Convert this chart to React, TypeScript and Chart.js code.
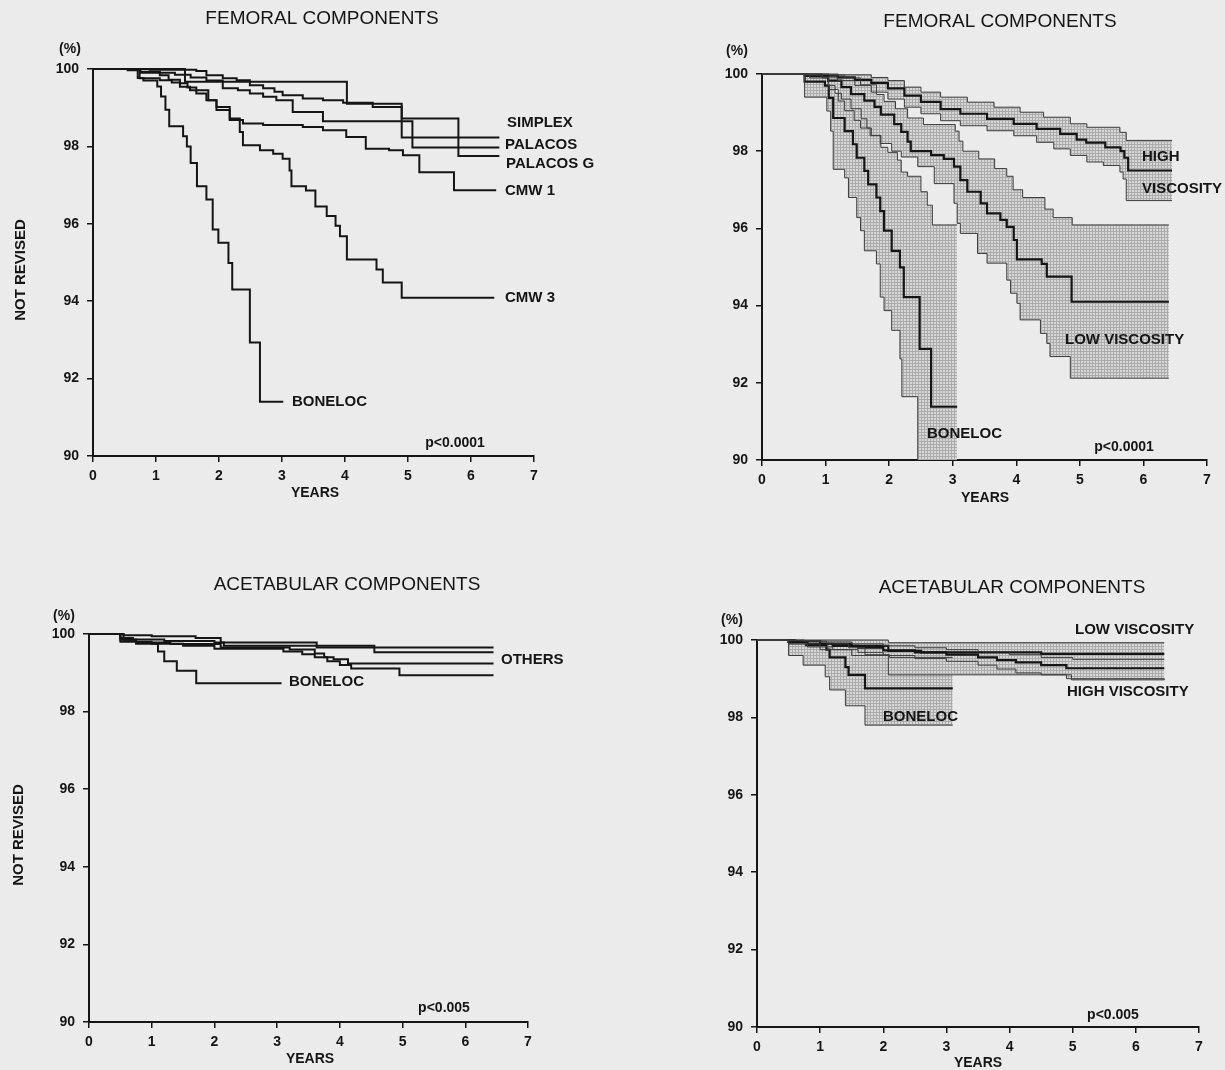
import React, { useEffect, useRef } from 'react';
import { Chart, registerables } from 'chart.js';

Chart.register(...registerables);

type Pt = [number, number];

// ---------- Top-left: femoral components by cement ----------
const FEM_SIMPLEX: Pt[] = [[0, 100], [1.46, 99.67], [4.03, 99.1], [4.9, 98.23], [6.45, 98.23]];
const FEM_PALACOS: Pt[] = [[0, 100], [0.55, 99.97], [0.75, 99.93], [1.06, 99.9], [1.3, 99.85], [1.55, 99.78], [1.8, 99.7], [2.06, 99.5], [2.3, 99.45], [2.49, 99.37], [2.7, 99.28], [2.91, 99.19], [3.17, 98.89], [3.65, 98.65], [5.07, 97.97], [6.45, 97.97]];
const FEM_PALACOS_G: Pt[] = [[0, 100], [0.9, 99.98], [1.64, 99.95], [1.8, 99.84], [2.06, 99.76], [2.28, 99.71], [2.49, 99.58], [2.7, 99.5], [2.88, 99.41], [3.01, 99.32], [3.33, 99.24], [3.65, 99.19], [3.97, 99.13], [4.44, 99.02], [4.9, 98.72], [5.8, 97.75], [6.45, 97.75]];
const FEM_CMW1: Pt[] = [[0, 100], [0.74, 99.76], [1.06, 99.71], [1.25, 99.65], [1.38, 99.54], [1.54, 99.45], [1.64, 99.37], [1.8, 99.19], [1.96, 98.94], [2.17, 98.68], [2.38, 98.59], [2.7, 98.55], [3.33, 98.5], [3.65, 98.42], [4.02, 98.24], [4.33, 97.94], [4.7, 97.9], [4.92, 97.77], [5.18, 97.33], [5.73, 96.87], [6.4, 96.87]];
const FEM_CMW3: Pt[] = [[0, 100], [0.75, 99.9], [1.06, 99.84], [1.2, 99.72], [1.38, 99.63], [1.5, 99.52], [1.64, 99.45], [1.83, 99.19], [1.96, 99.02], [2.17, 98.72], [2.33, 98.37], [2.38, 98.03], [2.65, 97.9], [2.86, 97.81], [3.01, 97.68], [3.12, 97.38], [3.15, 96.97], [3.38, 96.86], [3.53, 96.45], [3.71, 96.2], [3.85, 95.95], [3.92, 95.68], [4.03, 95.08], [4.5, 94.82], [4.6, 94.48], [4.9, 94.09], [6.37, 94.09]];
const FEM_BONELOC: Pt[] = [[0, 100], [0.71, 99.77], [0.8, 99.7], [1.02, 99.55], [1.08, 99.29], [1.15, 98.95], [1.21, 98.52], [1.43, 98.26], [1.49, 98.0], [1.55, 97.57], [1.65, 96.97], [1.8, 96.63], [1.9, 95.85], [1.99, 95.51], [2.15, 94.99], [2.21, 94.3], [2.49, 92.93], [2.65, 91.4], [3.02, 91.4]];

// ---------- Top-right: femoral components by viscosity (with confidence bands) ----------
const FV_HIGH_MID: Pt[] = [[0, 100], [0.67, 99.98], [0.93, 99.96], [1.19, 99.91], [1.46, 99.85], [1.72, 99.77], [1.98, 99.63], [2.24, 99.44], [2.5, 99.28], [2.81, 99.09], [3.12, 98.97], [3.54, 98.84], [3.96, 98.71], [4.32, 98.58], [4.69, 98.45], [4.95, 98.3], [5.1, 98.22], [5.4, 98.1], [5.64, 98.0], [5.7, 97.83], [5.76, 97.5], [6.45, 97.5]];
const FV_HIGH_UP: Pt[] = [[0, 100], [1.2, 99.98], [1.72, 99.91], [1.98, 99.83], [2.24, 99.66], [2.5, 99.53], [2.81, 99.4], [3.23, 99.27], [3.65, 99.14], [4.06, 99.01], [4.43, 98.88], [4.85, 98.71], [5.11, 98.62], [5.63, 98.49], [5.73, 98.28], [6.45, 98.28]];
const FV_HIGH_LO: Pt[] = [[0, 100], [0.67, 99.97], [0.93, 99.92], [1.19, 99.83], [1.46, 99.7], [1.72, 99.53], [1.98, 99.35], [2.24, 99.14], [2.5, 98.97], [2.81, 98.79], [3.12, 98.66], [3.54, 98.53], [3.96, 98.4], [4.32, 98.23], [4.59, 98.06], [4.85, 97.89], [5.11, 97.72], [5.37, 97.63], [5.63, 97.46], [5.68, 97.28], [5.73, 96.72], [6.45, 96.72]];
const FV_LOW_MID: Pt[] = [[0, 100], [0.7, 99.95], [1.04, 99.83], [1.25, 99.66], [1.4, 99.48], [1.61, 99.31], [1.77, 99.15], [1.87, 98.95], [2.08, 98.7], [2.19, 98.5], [2.29, 98.25], [2.34, 98.0], [2.66, 97.9], [2.86, 97.8], [3.02, 97.6], [3.12, 97.25], [3.23, 96.95], [3.44, 96.65], [3.54, 96.39], [3.75, 96.22], [3.85, 96.04], [3.96, 95.7], [4.01, 95.2], [4.4, 95.08], [4.48, 94.75], [4.87, 94.1], [6.4, 94.1]];
const FV_LOW_UP: Pt[] = [[0, 100], [1.05, 99.97], [1.3, 99.9], [1.55, 99.72], [1.8, 99.47], [1.92, 99.29], [2.1, 99.1], [2.29, 98.86], [2.54, 98.69], [3.04, 98.52], [3.1, 98.26], [3.16, 98.0], [3.41, 97.8], [3.66, 97.55], [3.85, 97.35], [3.95, 97.0], [4.1, 96.8], [4.45, 96.5], [4.58, 96.28], [4.88, 96.09], [6.4, 96.09]];
const FV_LOW_LO: Pt[] = [[0, 100], [0.75, 99.9], [1.05, 99.6], [1.2, 99.3], [1.3, 99.05], [1.45, 98.8], [1.55, 98.6], [1.7, 98.4], [1.86, 98.2], [2.04, 98.0], [2.19, 97.85], [2.45, 97.6], [2.71, 97.16], [3.02, 96.65], [3.07, 96.13], [3.12, 95.87], [3.39, 95.35], [3.54, 95.1], [3.85, 94.66], [3.91, 94.32], [4.01, 94.06], [4.06, 93.63], [4.38, 93.28], [4.48, 93.02], [4.53, 92.68], [4.85, 92.12], [6.4, 92.12]];
const FV_BONE_MID: Pt[] = [[0, 100], [0.67, 99.8], [0.99, 99.7], [1.05, 99.38], [1.12, 98.86], [1.3, 98.52], [1.43, 98.18], [1.49, 97.83], [1.61, 97.49], [1.67, 97.14], [1.8, 96.8], [1.86, 96.45], [1.92, 95.94], [2.04, 95.42], [2.17, 94.99], [2.23, 94.22], [2.48, 92.88], [2.66, 91.38], [3.07, 91.38]];
const FV_BONE_UP: Pt[] = [[0, 100], [0.95, 99.9], [1.04, 99.7], [1.15, 99.5], [1.25, 99.35], [1.4, 99.1], [1.56, 98.84], [1.65, 98.6], [1.72, 98.41], [1.87, 98.1], [1.98, 97.97], [2.13, 97.77], [2.19, 97.46], [2.29, 97.35], [2.5, 96.95], [2.6, 96.6], [2.68, 96.09], [3.07, 96.09]];
const FV_BONE_LO: Pt[] = [[0, 100], [0.67, 99.4], [1.02, 99.04], [1.08, 98.52], [1.12, 97.53], [1.3, 97.31], [1.36, 96.8], [1.49, 96.28], [1.55, 95.94], [1.61, 95.42], [1.8, 95.08], [1.86, 94.22], [1.92, 93.87], [2.04, 93.36], [2.17, 92.62], [2.2, 91.64], [2.45, 89.0], [3.07, 89.0]];

// ---------- Bottom-left: acetabular components by cement ----------
const ACE_OTHER_A: Pt[] = [[0, 100], [0.55, 99.97], [1.0, 99.94], [1.7, 99.9], [2.1, 99.78], [3.63, 99.65], [6.45, 99.65]];
const ACE_OTHER_B: Pt[] = [[0, 100], [0.5, 99.9], [0.7, 99.86], [1.2, 99.82], [2.0, 99.78], [2.15, 99.7], [4.55, 99.53], [6.45, 99.53]];
const ACE_OTHER_C: Pt[] = [[0, 100], [0.5, 99.85], [0.75, 99.78], [1.3, 99.74], [2.1, 99.65], [3.2, 99.6], [3.6, 99.5], [3.75, 99.4], [3.9, 99.35], [4.13, 99.24], [6.45, 99.24]];
const ACE_OTHER_D: Pt[] = [[0, 100], [0.5, 99.8], [1.0, 99.75], [1.5, 99.7], [2.0, 99.62], [3.1, 99.55], [3.4, 99.48], [3.6, 99.4], [3.8, 99.3], [4.0, 99.2], [4.18, 99.11], [4.95, 98.94], [6.45, 98.94]];
const ACE_BONELOC: Pt[] = [[0, 100], [0.55, 99.85], [0.75, 99.75], [1.1, 99.55], [1.2, 99.3], [1.4, 99.05], [1.71, 98.73], [3.07, 98.73]];

// ---------- Bottom-right: acetabular components by viscosity (with confidence bands) ----------
const AV_LOW_UP: Pt[] = [[0, 100], [2.08, 99.93], [6.45, 99.93]];
const AV_LOW_MID: Pt[] = [[0, 100], [0.6, 99.97], [1.0, 99.9], [1.5, 99.85], [2.08, 99.72], [2.6, 99.68], [4.5, 99.64], [6.45, 99.64]];
const AV_LOW_LO: Pt[] = [[0, 100], [0.5, 99.9], [1.0, 99.75], [1.5, 99.6], [2.08, 99.1], [4.98, 98.97], [6.45, 98.97]];
const AV_HIGH_UP: Pt[] = [[0, 100], [0.5, 99.98], [1.0, 99.95], [1.5, 99.9], [2.0, 99.85], [2.5, 99.8], [3.0, 99.75], [3.5, 99.7], [4.0, 99.62], [4.5, 99.55], [5.0, 99.5], [6.45, 99.5]];
const AV_HIGH_MID: Pt[] = [[0, 100], [0.5, 99.95], [0.8, 99.9], [1.2, 99.85], [1.6, 99.8], [2.0, 99.73], [2.5, 99.68], [3.0, 99.62], [3.5, 99.55], [3.8, 99.48], [4.1, 99.42], [4.5, 99.35], [4.9, 99.27], [6.45, 99.27]];
const AV_HIGH_LO: Pt[] = [[0, 100], [0.5, 99.9], [0.8, 99.82], [1.2, 99.75], [1.6, 99.68], [2.0, 99.6], [2.5, 99.52], [3.0, 99.45], [3.5, 99.35], [3.8, 99.25], [4.1, 99.15], [4.5, 99.1], [4.9, 99.0], [6.45, 98.97]];
const AV_BONE_UP: Pt[] = [[0, 100], [0.75, 99.97], [1.1, 99.9], [1.45, 99.8], [1.71, 99.62], [2.1, 99.55], [3.1, 99.55]];
const AV_BONE_MID: Pt[] = [[0, 100], [0.5, 99.95], [0.78, 99.87], [1.1, 99.75], [1.15, 99.55], [1.4, 99.3], [1.45, 99.1], [1.71, 98.75], [3.1, 98.75]];
const AV_BONE_LO: Pt[] = [[0, 100], [0.5, 99.6], [0.73, 99.35], [1.08, 99.05], [1.15, 98.71], [1.4, 98.3], [1.71, 97.8], [3.1, 97.8]];

// ---------- Axes ----------
const X_MIN = 0;
const X_MAX = 7;
const X_STEP = 1;
const Y_MIN = 90;
const Y_MAX = 100;
const Y_STEP = 2;

// ---------- Layout / styling (not data) ----------
const FONT = '"Liberation Sans", Arial, Helvetica, sans-serif';
const INK = '#151515';
const PAPER = '#ebebeb';

interface Band { up: Pt[]; lo: Pt[]; mid: Pt[] }
interface TextItem { t: string; x: number; y: number; size?: number; bold?: boolean; align?: CanvasTextAlign; rot?: boolean }
interface PanelSpec {
  left: number; top: number; w: number; h: number;
  pad: { l: number; r: number; t: number; b: number };
  lines: Pt[][];
  bands: Band[];
  texts: TextItem[];
}

const PANELS: PanelSpec[] = [
  {
    left: 0, top: 0, w: 612, h: 535,
    pad: { l: 33, r: 78, t: 69, b: 39 },
    lines: [FEM_SIMPLEX, FEM_PALACOS, FEM_PALACOS_G, FEM_CMW1, FEM_CMW3, FEM_BONELOC],
    bands: [],
    texts: [
      { t: 'FEMORAL COMPONENTS', x: 322, y: 19, size: 19, bold: false, align: 'center' },
      { t: '(%)', x: 70, y: 49, size: 14, align: 'center' },
      { t: 'NOT REVISED', x: 21, y: 270, size: 15, rot: true },
      { t: 'YEARS', x: 315, y: 493, size: 14, align: 'center' },
      { t: 'SIMPLEX', x: 507, y: 123, size: 15 },
      { t: 'PALACOS', x: 505, y: 145, size: 15 },
      { t: 'PALACOS G', x: 506, y: 164, size: 15 },
      { t: 'CMW 1', x: 505, y: 191, size: 15 },
      { t: 'CMW 3', x: 505, y: 298, size: 15 },
      { t: 'BONELOC', x: 292, y: 402, size: 15 },
      { t: 'p<0.0001', x: 455, y: 443, size: 14, align: 'center' },
    ],
  },
  {
    left: 612, top: 0, w: 613, h: 535,
    pad: { l: 90, r: 18, t: 74, b: 35 },
    lines: [],
    bands: [
      { up: FV_HIGH_UP, lo: FV_HIGH_LO, mid: FV_HIGH_MID },
      { up: FV_LOW_UP, lo: FV_LOW_LO, mid: FV_LOW_MID },
      { up: FV_BONE_UP, lo: FV_BONE_LO, mid: FV_BONE_MID },
    ],
    texts: [
      { t: 'FEMORAL COMPONENTS', x: 388, y: 22, size: 19, bold: false, align: 'center' },
      { t: '(%)', x: 125, y: 51, size: 14, align: 'center' },
      { t: 'YEARS', x: 373, y: 498, size: 14, align: 'center' },
      { t: 'HIGH', x: 530, y: 157, size: 15 },
      { t: 'VISCOSITY', x: 530, y: 189, size: 15 },
      { t: 'LOW VISCOSITY', x: 453, y: 340, size: 15 },
      { t: 'BONELOC', x: 315, y: 434, size: 15 },
      { t: 'p<0.0001', x: 512, y: 447, size: 14, align: 'center' },
    ],
  },
  {
    left: 0, top: 535, w: 612, h: 535,
    pad: { l: 29, r: 84, t: 99, b: 8 },
    lines: [ACE_OTHER_A, ACE_OTHER_B, ACE_OTHER_C, ACE_OTHER_D, ACE_BONELOC],
    bands: [],
    texts: [
      { t: 'ACETABULAR COMPONENTS', x: 347, y: 50, size: 19, bold: false, align: 'center' },
      { t: '(%)', x: 64, y: 81, size: 14, align: 'center' },
      { t: 'NOT REVISED', x: 19, y: 300, size: 15, rot: true },
      { t: 'YEARS', x: 310, y: 524, size: 14, align: 'center' },
      { t: 'OTHERS', x: 501, y: 125, size: 15 },
      { t: 'BONELOC', x: 289, y: 147, size: 15 },
      { t: 'p<0.005', x: 444, y: 473, size: 14, align: 'center' },
    ],
  },
  {
    left: 612, top: 535, w: 613, h: 535,
    pad: { l: 85, r: 26, t: 105, b: 3 },
    lines: [],
    bands: [
      { up: AV_LOW_UP, lo: AV_LOW_LO, mid: AV_LOW_MID },
      { up: AV_HIGH_UP, lo: AV_HIGH_LO, mid: AV_HIGH_MID },
      { up: AV_BONE_UP, lo: AV_BONE_LO, mid: AV_BONE_MID },
    ],
    texts: [
      { t: 'ACETABULAR COMPONENTS', x: 400, y: 53, size: 19, bold: false, align: 'center' },
      { t: '(%)', x: 120, y: 85, size: 14, align: 'center' },
      { t: 'YEARS', x: 366, y: 528, size: 14, align: 'center' },
      { t: 'LOW VISCOSITY', x: 463, y: 95, size: 15 },
      { t: 'HIGH VISCOSITY', x: 455, y: 157, size: 15 },
      { t: 'BONELOC', x: 271, y: 182, size: 15 },
      { t: 'p<0.005', x: 501, y: 480, size: 14, align: 'center' },
    ],
  },
];

const toXY = (pts: Pt[]) => pts.map(([x, y]) => ({ x, y }));

function Panel({ spec }: { spec: PanelSpec }) {
  const ref = useRef<HTMLCanvasElement | null>(null);

  useEffect(() => {
    const canvas = ref.current;
    if (!canvas) return;
    const ctx = canvas.getContext('2d');
    if (!ctx) return;

    // screened (dot grid) fill like the printed confidence bands
    const tile = document.createElement('canvas');
    tile.width = 3;
    tile.height = 3;
    const tg = tile.getContext('2d');
    let fillStyle: any = '#c6c6c6';
    if (tg) {
      tg.fillStyle = '#d7d7d7';
      tg.fillRect(0, 0, 3, 3);
      tg.fillStyle = '#ababab';
      tg.fillRect(0, 0, 1, 3);
      tg.fillRect(0, 0, 3, 1);
      const p = ctx.createPattern(tile, 'repeat');
      if (p) fillStyle = p;
    }

    const clip = { left: 3, top: 3, right: 3, bottom: 0 };
    const datasets: any[] = [];
    spec.bands.forEach((b) => {
      datasets.push({
        data: toXY(b.up), stepped: true, borderColor: '#3c3c3c', borderWidth: 1,
        pointRadius: 0, fill: '+1', backgroundColor: fillStyle, clip,
      });
      datasets.push({
        data: toXY(b.lo), stepped: true, borderColor: '#3c3c3c', borderWidth: 1,
        pointRadius: 0, fill: false, clip,
      });
    });
    spec.bands.forEach((b) => {
      datasets.push({
        data: toXY(b.mid), stepped: true, borderColor: INK, borderWidth: 2.2,
        pointRadius: 0, fill: false, clip,
      });
    });
    spec.lines.forEach((l) => {
      datasets.push({
        data: toXY(l), stepped: true, borderColor: INK, borderWidth: 2,
        pointRadius: 0, fill: false, clip,
      });
    });

    const textPlugin = {
      id: 'panelText',
      afterDraw(chart: any) {
        const c = chart.ctx as CanvasRenderingContext2D;
        c.save();
        c.fillStyle = INK;
        c.textBaseline = 'middle';
        spec.texts.forEach((t) => {
          const bold = t.bold === undefined ? true : t.bold;
          c.font = `${bold ? 'bold ' : ''}${t.size || 14}px ${FONT}`;
          if (t.rot) {
            c.save();
            c.translate(t.x, t.y);
            c.rotate(-Math.PI / 2);
            c.textAlign = 'center';
            c.fillText(t.t, 0, 0);
            c.restore();
          } else {
            c.textAlign = t.align || 'left';
            c.fillText(t.t, t.x, t.y);
          }
        });
        c.restore();
      },
    };

    const tickFont = { family: FONT, size: 14, weight: 'bold' as const };
    const chart = new Chart(canvas, {
      type: 'line',
      data: { datasets },
      plugins: [textPlugin],
      options: {
        animation: false,
        responsive: false,
        devicePixelRatio: 1,
        events: [],
        layout: { autoPadding: false, padding: { left: spec.pad.l, right: spec.pad.r, top: spec.pad.t, bottom: spec.pad.b } },
        plugins: {
          legend: { display: false },
          tooltip: { enabled: false },
          filler: { drawTime: 'beforeDatasetsDraw', propagate: false },
        },
        scales: {
          x: {
            type: 'linear', min: X_MIN, max: X_MAX,
            ticks: { stepSize: X_STEP, font: tickFont, color: INK, padding: 6, maxRotation: 0 },
            grid: { drawOnChartArea: false, drawTicks: true, tickLength: 6, color: INK, lineWidth: 1.5 },
            border: { display: true, color: INK, width: 2 },
            afterFit: (s: any) => { s.height = 40; },
          },
          y: {
            type: 'linear', min: Y_MIN, max: Y_MAX,
            ticks: { stepSize: Y_STEP, font: tickFont, color: INK, padding: 8 },
            grid: { drawOnChartArea: false, drawTicks: true, tickLength: 6, color: INK, lineWidth: 1.5 },
            border: { display: true, color: INK, width: 2 },
            afterFit: (s: any) => { s.width = 60; },
          },
        },
      } as any,
    });
    return () => chart.destroy();
  }, [spec]);

  return (
    <canvas
      ref={ref}
      width={spec.w}
      height={spec.h}
      style={{ position: 'absolute', left: spec.left, top: spec.top, width: spec.w, height: spec.h }}
    />
  );
}

export default function App() {
  return (
    <div style={{ position: 'absolute', left: 0, top: 0, width: 1225, height: 1070, background: PAPER, overflow: 'hidden' }}>
      {PANELS.map((p, i) => (
        <Panel key={i} spec={p} />
      ))}
    </div>
  );
}
